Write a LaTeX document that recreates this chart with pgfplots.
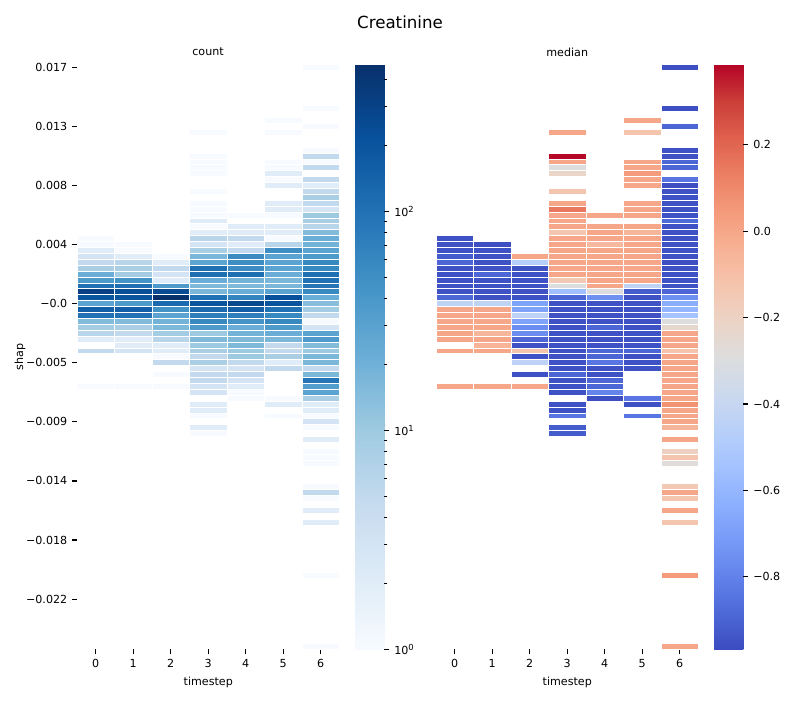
\documentclass[border=0pt]{standalone}
\usepackage{pgfplots}
\pgfplotsset{compat=1.18}
\usepackage{pgfplotstable}
\usepackage{fontspec}
\setmainfont{DejaVu Sans}

\pgfdeclareplotmark{cell}{%
  \pgfpathrectangle{\pgfpoint{-13.5pt}{-2.127pt}}{\pgfpoint{27pt}{4.254pt}}%
  \pgfusepathqfillstroke}

\pgfplotstableread{
t row count med
6 0 1 -0.96
6 7 1 -0.96
5 9 1 0.0
6 10 1 -0.89
3 11 1 0.0
5 11 1 -0.12
6 14 1 -0.95
3 15 1 0.38
6 15 5 -0.95
3 16 1 0.0
5 16 1 0.0
6 16 1 -0.89
3 17 1 -0.29
5 17 1 0.0
6 17 5 -0.89
3 18 1 -0.22
5 18 2 0.04
5 19 1 0.0
6 19 5 -0.84
5 20 2 0.0
6 20 2 -0.96
3 21 1 -0.13
6 21 5 -0.95
6 22 8 -0.95
3 23 1 0.0
5 23 2 0.0
6 23 5 -0.95
3 24 1 0.15
5 24 2 0.0
6 24 3 -0.95
3 25 1 0.0
4 25 1 0.0
5 25 1 0.0
6 25 10 -0.95
3 26 2 0.0
6 26 8 -0.88
3 27 1 0.0
4 27 2 0.0
5 27 2 0.0
6 27 6 -0.95
3 28 2 -0.13
4 28 2 0.0
5 28 2 -0.06
6 28 15 -0.95
0 29 1 -0.95
3 29 6 0.0
4 29 5 0.0
5 29 1 0.0
6 29 22 -0.95
0 30 1 -0.95
1 30 1 -0.96
3 30 3 0.0
4 30 2 -0.07
5 30 6 0.0
6 30 19 -0.95
0 31 2 -0.95
1 31 1 -0.95
3 31 8 0.0
4 31 5 0.0
5 31 51 0.0
6 31 29 -0.95
0 32 3 -0.92
1 32 2 -0.95
2 32 1 0.0
3 32 17 0.0
4 32 54 0.0
5 32 29 0.0
6 32 37 -0.95
0 33 5 -0.89
1 33 6 -0.95
2 33 2 -0.47
3 33 28 0.0
4 33 51 0.0
5 33 29 0.0
6 33 58 -0.96
0 34 8 -0.95
1 34 8 -0.95
2 34 5 -0.95
3 34 107 0.0
4 34 54 0.0
5 34 29 0.0
6 34 58 -0.95
0 35 22 -0.95
1 35 9 -0.89
2 35 3 -0.95
3 35 107 0.0
4 35 107 0.0
5 35 22 0.0
6 35 107 -0.95
0 36 37 -0.95
1 36 46 -0.95
2 36 2 -0.95
3 36 22 -0.15
4 36 19 0.0
5 36 17 0.0
6 36 100 -0.95
0 37 100 -0.95
1 37 107 -0.95
2 37 37 -0.95
3 37 16 -0.29
4 37 16 0.0
5 37 17 -0.43
6 37 91 -0.95
0 38 324 -0.95
1 38 230 -0.95
2 38 253 -0.95
3 38 17 -0.56
4 38 22 -0.29
5 38 29 -0.92
6 38 58 -0.89
0 39 197 -0.89
1 39 197 -0.95
2 39 468 -0.95
3 39 100 -0.89
4 39 65 -0.75
5 39 217 -0.95
6 39 22 -0.75
0 40 29 -0.43
1 40 37 -0.43
2 40 121 -0.68
3 40 203 -0.95
4 40 269 -0.95
5 40 203 -0.95
6 40 14 -0.64
0 41 155 0.0
1 41 155 0.0
2 41 46 -0.68
3 41 121 -0.95
4 41 155 -0.95
5 41 100 -0.95
6 41 9 -0.60
0 42 100 0.0
1 42 100 0.0
2 42 29 -0.44
3 42 74 -0.95
4 42 74 -0.95
5 42 58 -0.95
6 42 5 -0.54
0 43 15 0.0
1 43 15 0.0
2 43 19 -0.68
3 43 58 -0.95
4 43 46 -0.95
5 43 58 -0.95
6 43 1 -0.29
0 44 9 0.0
1 44 8 0.0
2 44 16 -0.76
3 44 37 -0.95
4 44 22 -0.89
5 44 37 -0.95
6 44 3 -0.24
0 45 6 0.0
1 45 5 -0.06
2 45 9 -0.76
3 45 10 -0.95
4 45 19 -0.95
5 45 22 -0.95
6 45 29 0.0
0 46 2 0.0
1 46 2 0.0
2 46 6 -0.89
3 46 16 -0.95
4 46 16 -0.95
5 46 17 -0.95
6 46 37 0.0
1 47 2 -0.05
2 47 2 -0.95
3 47 10 -0.95
4 47 16 -0.95
5 47 5 -0.95
6 47 15 0.0
0 48 5 0.0
1 48 3 0.0
2 48 2 -0.12
3 48 8 -0.95
4 48 10 -0.89
5 48 5 -0.89
6 48 10 -0.12
2 49 1 -0.95
3 49 5 -0.95
4 49 10 -0.89
5 49 8 -0.95
6 49 17 0.0
2 50 5 -0.44
3 50 8 -0.95
4 50 5 -0.84
5 50 2 -0.95
6 50 17 0.0
3 51 3 -0.95
4 51 3 -0.95
5 51 5 -0.95
6 51 5 0.0
2 52 1 -0.95
3 52 5 -0.89
4 52 5 -0.95
6 52 17 0.0
3 53 5 -0.95
4 53 3 -0.89
6 53 91 0.0
0 54 1 0.0
1 54 1 0.0
2 54 1 0.0
3 54 3 -0.95
4 54 2 -0.89
6 54 34 0.0
3 55 3 -0.95
4 55 1 -0.79
6 55 29 0.0
4 56 1 -0.96
5 56 1 -0.84
6 56 8 0.0
3 57 2 -0.95
5 57 2 -0.95
6 57 2 0.07
3 58 2 -0.95
6 58 2 0.0
3 59 1 -0.84
5 59 1 -0.84
6 59 1 0.0
6 60 3 0.0
3 61 2 -0.92
6 61 1 -0.06
3 62 1 -0.92
6 63 2 0.0
6 65 1 -0.19
6 66 1 -0.12
6 67 1 -0.28
6 71 1 -0.15
6 72 5 0.0
6 73 1 -0.13
6 75 2 0.0
6 77 2 -0.13
6 86 1 0.04
6 98 1 0.0
}\cells

\pgfplotsset{
  colormap={blues}{rgb255=(247,251,255) rgb255=(222,235,247) rgb255=(198,219,239) rgb255=(158,202,225) rgb255=(107,174,214) rgb255=(66,146,198) rgb255=(33,113,181) rgb255=(8,81,156) rgb255=(8,48,107)},
  colormap={coolwarm}{rgb255=(59,76,192) rgb255=(77,104,215) rgb255=(98,130,234) rgb255=(119,154,247) rgb255=(141,176,254) rgb255=(163,194,255) rgb255=(184,208,249) rgb255=(204,217,238) rgb255=(221,221,221) rgb255=(236,211,197) rgb255=(245,196,173) rgb255=(247,177,148) rgb255=(244,154,123) rgb255=(236,127,99) rgb255=(222,96,77) rgb255=(203,62,56) rgb255=(180,4,38)},
  hm/.style={
    scale only axis, width=189pt, height=421.1pt,
    xmin=-0.5, xmax=6.5, ymin=-0.5, ymax=98.5, y dir=reverse,
    axis line style={draw=none},
    tick align=outside, xtick pos=left, ytick pos=left,
    major tick length=3.5pt,
    tick style={black, line width=0.8pt},
    xtick={0,...,6},
    tick label style={font=\fontsize{8}{9.6}\selectfont},
    label style={font=\fontsize{8}{9.6}\selectfont},
    /pgf/number format/assume math mode=true,
    xlabel={timestep},
    colorbar,
    colorbar/width=21.2pt,
    colorbar shift/.style={xshift=11.2pt},
  },
  cbs/.style={
    at={(parent axis.north east)}, anchor=north west,
    scale only axis, width=21.2pt, height=421.1pt,
    axis line style={draw=none},
    tick align=outside, ytick pos=right, yticklabel pos=right,
    major tick length=3.5pt, minor tick length=2pt,
    tick style={black, line width=0.8pt},
    minor tick style={line width=0.6pt},
    tick label style={font=\fontsize{8}{9.6}\selectfont},
    /pgf/number format/assume math mode=true,
  },
}

\begin{document}
\begin{tikzpicture}
\path[use as bounding box] (0,0) rectangle (576pt,504pt);
\node[font=\fontsize{12}{14.4}\selectfont] at (288pt,488.2pt) {Creatinine};
\node[font=\fontsize{8}{9.6}\selectfont] at (149.8pt,466.6pt) {count};
\node[font=\fontsize{8}{9.6}\selectfont] at (408.4pt,466.6pt) {median};
\node[font=\fontsize{8}{9.6}\selectfont, rotate=90] at (14.4pt,247pt) {shap};

\begin{axis}[hm, at={(55.44pt,36.5pt)}, anchor=south west,
  ytick={0,10,...,90},
  yticklabels={0.017,0.013,0.008,0.004,−0.0,−0.005,−0.009,−0.014,−0.018,−0.022},
  colormap name=blues, point meta min=0, point meta max=2.67,
  colorbar style={cbs, ytick={0,1,2},
    yticklabels={10\textsuperscript{0},10\textsuperscript{1},10\textsuperscript{2}},
    minor ytick={0.301,0.477,0.602,0.699,0.778,0.845,0.903,0.954,1.301,1.477,1.602,1.699,1.778,1.845,1.903,1.954,2.301,2.477,2.602}},
]
\addplot[scatter, only marks, mark=cell,
  point meta={log10(\thisrow{count})},
  scatter/use mapped color={draw=white, fill=mapped color, line width=0.7pt}]
  table[x=t, y=row] {\cells};
\end{axis}

\begin{axis}[hm, at={(313.92pt,36.5pt)}, anchor=south west,
  ytick=\empty,
  colormap name=coolwarm, point meta min=-0.968, point meta max=0.386,
  colorbar style={cbs, ytick={-0.8,-0.6,-0.4,-0.2,0,0.2},
    yticklabels={−0.8,−0.6,−0.4,−0.2,0.0,0.2}},
]
\addplot[scatter, only marks, mark=cell,
  point meta=\thisrow{med},
  scatter/use mapped color={draw=white, fill=mapped color, line width=0.7pt}]
  table[x=t, y=row] {\cells};
\end{axis}
\end{tikzpicture}
\end{document}
